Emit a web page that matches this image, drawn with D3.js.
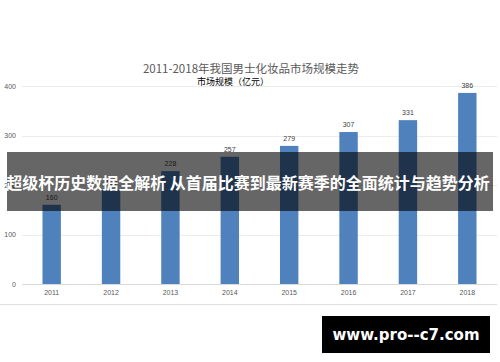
<!DOCTYPE html>
<html>
<head>
<meta charset="utf-8">
<script src="https://cdn.jsdelivr.net/npm/d3@7"></script>
<style>
  body { margin: 0; background: #fff; }
  svg { display: block; font-family: "Noto Sans CJK SC", "Liberation Sans", sans-serif; }
</style>
</head>
<body>
<div id="chart"></div>
<script>
var years = ['2011', '2012', '2013', '2014', '2015', '2016', '2017', '2018'];
var marketSize = [160, 190, 228, 257, 279, 307, 331, 386];
var yTicks = [0, 100, 200, 300, 400];

var svgWidth = 500;
var svgHeight = 362;

var svg = d3.select('#chart').append('svg')
  .attr('width', svgWidth)
  .attr('height', svgHeight);

// plot area (don't use "top" as a name, it clashes with window.top)
var plot = { left: 22, right: 497, top: 87, bottom: 284 };

var x = d3.scaleBand()
  .domain(years)
  .range([plot.left, plot.right])
  .paddingInner(0.69)
  .paddingOuter(0.345);

var y = d3.scaleLinear()
  .domain([0, 400])
  .range([plot.bottom, plot.top - 1]);

// gridlines
svg.append('g')
  .selectAll('line')
  .data(yTicks)
  .enter()
  .append('line')
  .attr('x1', plot.left)
  .attr('x2', plot.right)
  .attr('y1', d => Math.round(y(d)) + 0.5)
  .attr('y2', d => Math.round(y(d)) + 0.5)
  .attr('stroke', d => d === 0 ? '#d9d9d9' : '#ececec')
  .attr('stroke-width', 1);

// y axis labels
var yAxis = svg.append('g')
  .attr('transform', `translate(${plot.left - 6}, 0)`)
  .call(d3.axisLeft(y).tickValues(yTicks).tickSize(0).tickPadding(0));
yAxis.select('.domain').remove();
yAxis.selectAll('text')
  .attr('fill', '#595959')
  .attr('font-size', '7px')
  .attr('font-family', 'Liberation Sans, sans-serif');

// x axis labels
var xAxis = svg.append('g')
  .attr('transform', `translate(0, ${plot.bottom + 6})`)
  .call(d3.axisBottom(x).tickSize(0).tickPadding(0));
xAxis.select('.domain').remove();
xAxis.selectAll('text')
  .attr('fill', '#595959')
  .attr('font-size', '7px')
  .attr('font-family', 'Liberation Sans, sans-serif');

// bars
svg.append('g')
  .selectAll('rect')
  .data(marketSize)
  .enter()
  .append('rect')
  .attr('x', (d, i) => x(years[i]))
  .attr('y', d => y(d))
  .attr('width', x.bandwidth())
  .attr('height', d => plot.bottom - y(d))
  .attr('fill', '#4f81bd');

// value labels
svg.append('g')
  .selectAll('text')
  .data(marketSize)
  .enter()
  .append('text')
  .attr('x', (d, i) => x(years[i]) + x.bandwidth() / 2)
  .attr('y', d => y(d) - 5)
  .attr('text-anchor', 'middle')
  .attr('fill', '#404040')
  .attr('font-size', '7px')
  .attr('font-family', 'Liberation Sans, sans-serif')
  .text(d => d);

// title
svg.append('text')
  .attr('x', 251)
  .attr('y', 73)
  .attr('text-anchor', 'middle')
  .attr('fill', '#595959')
  .attr('font-size', '11.5px')
  .text('2011-2018年我国男士化妆品市场规模走势');

svg.append('text')
  .attr('x', 197)
  .attr('y', 85)
  .attr('fill', '#000')
  .attr('font-size', '9px')
  .text('市场规模（亿元）');

// bottom border line
svg.append('line')
  .attr('x1', 0)
  .attr('x2', 497)
  .attr('y1', 304.5)
  .attr('y2', 304.5)
  .attr('stroke', '#e0e0e0');

// banner
svg.append('rect')
  .attr('x', 7)
  .attr('y', 152)
  .attr('width', 486)
  .attr('height', 59)
  .attr('fill', '#000')
  .attr('fill-opacity', 0.6);

svg.append('text')
  .attr('x', 248)
  .attr('y', 189)
  .attr('text-anchor', 'middle')
  .attr('fill', '#fff')
  .attr('font-size', '16px')
  .attr('font-weight', 'bold')
  .text('超级杯历史数据全解析 从首届比赛到最新赛季的全面统计与趋势分析');

// footer watermark
svg.append('rect')
  .attr('x', 322)
  .attr('y', 316)
  .attr('width', 168)
  .attr('height', 37)
  .attr('fill', '#000');

svg.append('text')
  .attr('x', 406)
  .attr('y', 340)
  .attr('text-anchor', 'middle')
  .attr('fill', '#fff')
  .attr('font-size', '15px')
  .attr('font-weight', 'bold')
  .attr('font-family', 'DejaVu Sans, sans-serif')
  .text('www.pro--c7.com');
</script>
</body>
</html>
